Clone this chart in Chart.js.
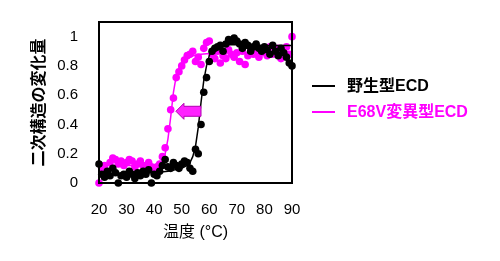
<!DOCTYPE html>
<html>
<head>
<meta charset="utf-8">
<script src="https://cdn.jsdelivr.net/npm/chart.js@4"></script>
<style>
  html, body { margin: 0; padding: 0; background: #fff; }
  #wrap { width: 500px; height: 261px; }
</style>
</head>
<body>
<div id="wrap"><canvas id="cd"></canvas></div>
<script>
// temperatures (°C) and measured points
const temps = [20,21,22,23,24,25,26,27,28,29,30,31,32,33,34,35,36,37,38,39,40,41,42,43,44,45,46,47,48,49,50,51,52,53,54,55,56,57,58,59,60,61,62,63,64,65,66,67,68,69,70,71,72,73,74,75,76,77,78,79,80,81,82,83,84,85,86,87,88,89,90];
const wildPts = [0.13,0.06,0.04,0.08,0.05,0.10,0.07,0.00,0.05,0.06,0.04,0.08,0.06,0.03,0.07,0.05,0.08,0.06,0.09,0.00,0.06,0.05,0.08,0.12,0.16,0.11,0.10,0.14,0.12,0.10,0.13,0.15,0.14,0.10,0.08,0.23,0.20,0.40,0.62,0.72,0.83,0.90,0.92,0.93,0.94,0.90,0.95,0.98,0.97,0.99,0.97,0.95,0.92,0.96,0.94,0.90,0.93,0.95,0.92,0.90,0.93,0.91,0.88,0.94,0.90,0.87,0.92,0.89,0.86,0.82,0.80];
const mutPts = [0.00,0.10,0.12,0.08,0.14,0.17,0.16,0.13,0.15,0.12,0.14,0.16,0.15,0.11,0.13,0.15,0.12,0.10,0.14,0.11,0.08,0.11,0.13,0.18,0.24,0.37,0.50,0.58,0.72,0.76,0.80,0.84,0.87,0.88,0.90,0.83,0.86,0.81,0.92,0.96,0.97,0.88,0.85,0.90,0.82,0.87,0.85,0.91,0.88,0.86,0.89,0.83,0.90,0.81,0.87,0.92,0.88,0.90,0.86,0.89,0.91,0.87,0.93,0.88,0.90,0.92,0.85,0.89,0.93,0.88,1.00];

// fitted curves
const wildFitX = [20,30,40,45,50,52,53,54,55,56,57,58,59,60,61,62,63,65,70,80,90];
const wildFitY = [0.06,0.065,0.07,0.08,0.10,0.12,0.14,0.18,0.25,0.38,0.55,0.70,0.80,0.87,0.91,0.93,0.94,0.945,0.945,0.94,0.94];
const mutFitX = [20,30,40,42,43,44,45,46,47,48,49,50,52,54,57,60,70,80,90];
const mutFitY = [0.12,0.12,0.12,0.13,0.15,0.20,0.30,0.45,0.62,0.73,0.78,0.81,0.85,0.87,0.88,0.885,0.89,0.89,0.89];

const xTicks = [20,30,40,50,60,70,80,90];
const yTicks = [0,0.2,0.4,0.6,0.8,1];
const yTickLabels = ['0','0.2','0.4','0.6','0.8','1'];
const seriesNames = ['野生型ECD', 'E68V変異型ECD'];
const seriesColors = ['#000000', '#ff00ff'];

const FONT = '"Liberation Sans", "Noto Sans CJK JP", Arial, sans-serif';

const toXY = (xs, ys) => xs.map((x, i) => ({ x: x, y: ys[i] }));

// box around plot, arrow and legend
const extras = {
  id: 'extras',
  afterDatasetsDraw(chart) {
    const ctx = chart.ctx;
    const xs = chart.scales.x, ys = chart.scales.y;
    const a = chart.chartArea;

    // arrow pointing left (shift of the transition)
    const tipX = xs.getPixelForValue(47.9), tailX = xs.getPixelForValue(57);
    const cy = ys.getPixelForValue(0.49);
    const headLen = 8, headH = 8, shaftH = 5;
    ctx.save();
    ctx.beginPath();
    ctx.moveTo(tipX, cy);
    ctx.lineTo(tipX + headLen, cy - headH);
    ctx.lineTo(tipX + headLen, cy - shaftH);
    ctx.lineTo(tailX, cy - shaftH);
    ctx.lineTo(tailX, cy + shaftH);
    ctx.lineTo(tipX + headLen, cy + shaftH);
    ctx.lineTo(tipX + headLen, cy + headH);
    ctx.closePath();
    ctx.fillStyle = '#ff22ff';
    ctx.fill();
    ctx.lineWidth = 1;
    ctx.strokeStyle = '#b000b0';
    ctx.stroke();
    ctx.restore();

    // frame
    ctx.save();
    ctx.strokeStyle = '#000';
    ctx.lineWidth = 2;
    ctx.strokeRect(a.left, a.top, a.right - a.left, a.bottom - a.top);
    ctx.restore();

    // legend
    ctx.save();
    ctx.font = 'bold 16px ' + FONT;
    ctx.textBaseline = 'middle';
    seriesNames.forEach((name, i) => {
      const y = 86 + i * 26;
      ctx.strokeStyle = seriesColors[i];
      ctx.lineWidth = 2;
      ctx.beginPath();
      ctx.moveTo(312, y);
      ctx.lineTo(335, y);
      ctx.stroke();
      ctx.fillStyle = seriesColors[i];
      ctx.fillText(name, 347, y + 1);
    });
    ctx.restore();
  }
};

new Chart(document.getElementById('cd'), {
  type: 'scatter',
  data: {
    datasets: [
      {
        label: seriesNames[0] + ' fit',
        data: toXY(wildFitX, wildFitY),
        showLine: true,
        borderColor: seriesColors[0],
        borderWidth: 1.5,
        pointRadius: 0,
        tension: 0
      },
      {
        label: seriesNames[0],
        data: toXY(temps, wildPts),
        backgroundColor: seriesColors[0],
        borderColor: seriesColors[0],
        pointRadius: 3.8,
        borderWidth: 0
      },
      {
        label: seriesNames[1] + ' fit',
        data: toXY(mutFitX, mutFitY),
        showLine: true,
        borderColor: seriesColors[1],
        borderWidth: 1.5,
        pointRadius: 0,
        tension: 0
      },
      {
        label: seriesNames[1],
        data: toXY(temps, mutPts),
        backgroundColor: seriesColors[1],
        borderColor: seriesColors[1],
        pointRadius: 3.8,
        borderWidth: 0
      }
    ]
  },
  options: {
    responsive: true,
    maintainAspectRatio: false,
    animation: false,
    clip: false,
    layout: { padding: { left: 0, top: 19, right: 208, bottom: 0 } },
    plugins: {
      legend: { display: false },
      tooltip: { enabled: false }
    },
    scales: {
      x: {
        type: 'linear',
        min: 20,
        max: 90,
        grid: { display: false },
        border: { display: false },
        afterBuildTicks: s => { s.ticks = xTicks.map(v => ({ value: v })); },
        afterFit: s => { s.height = 78; },
        ticks: { color: '#000', padding: 10, font: { family: FONT, size: 15 }, maxRotation: 0 },
        title: { display: true, text: '温度 (°C)', color: '#000', font: { family: FONT, size: 16 }, padding: { top: 0, bottom: 19 } }
      },
      y: {
        min: 0,
        max: 1.1,
        grid: { display: false },
        border: { display: false },
        afterBuildTicks: s => { s.ticks = yTicks.map(v => ({ value: v })); },
        afterFit: s => { s.width = 99; },
        ticks: {
          color: '#000',
          padding: 13,
          font: { family: FONT, size: 15 },
          callback: (v, i) => yTickLabels[i]
        },
        title: { display: true, text: '二次構造の変化量', color: '#000', font: { family: FONT, size: 16, weight: 'bold' }, padding: { top: 30, bottom: 0 } }
      }
    }
  },
  plugins: [extras]
});
</script>
</body>
</html>
